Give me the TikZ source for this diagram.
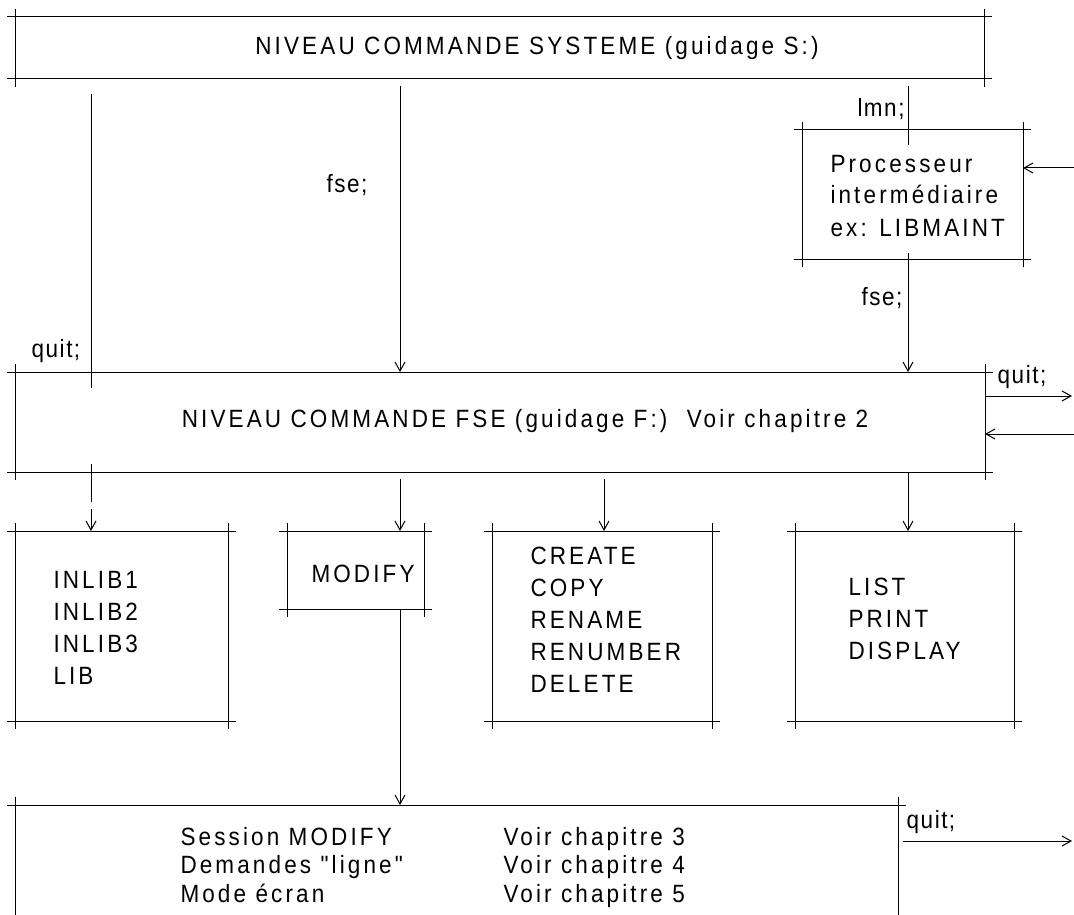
\documentclass[tikz,border=0pt]{standalone}
\usepackage{fontspec}
\setmainfont{Liberation Sans}[FakeStretch=0.9, LetterSpace=12.5, Ligatures=TeXOff]
\newfontfamily\labelfont{Liberation Sans}[FakeStretch=0.9, LetterSpace=6, Ligatures=TeXOff]
\usetikzlibrary{arrows.meta}

% box drawn as four lines that cross at the corners
\newcommand\crossframe[1]{%
  \draw ([xshift=-8pt]#1.north west) -- ([xshift=8pt]#1.north east);
  \draw ([xshift=-8pt]#1.south west) -- ([xshift=8pt]#1.south east);
  \draw ([yshift=8pt]#1.north west) -- ([yshift=-8pt]#1.south west);
  \draw ([yshift=8pt]#1.north east) -- ([yshift=-8pt]#1.south east);}

\begin{document}
\begin{tikzpicture}[x=1pt, y=-1pt, line width=1pt,
  frame/.style={inner sep=0pt, draw=none, anchor=north west},
  txt/.style={inner sep=0pt, font=\fontsize{25}{32}\selectfont, align=left},
  lbl/.style={inner sep=0pt, font=\labelfont\fontsize{25}{28}\selectfont},
  arr/.style={-{Straight Barb[length=9pt,width=10pt,line width=1pt]}}]
\useasboundingbox (0,0) rectangle (1074,915);

% frames
\node[frame, minimum width=968pt, minimum height=61pt]  (sys)     at (15,17)  {};
\node[frame, minimum width=220pt, minimum height=128pt] (proc)    at (802,130) {};
\node[frame, minimum width=969pt, minimum height=99pt]  (fse)     at (15,372) {};
\node[frame, minimum width=212pt, minimum height=189pt] (inlib)   at (15,531) {};
\node[frame, minimum width=136pt, minimum height=77pt]  (modify)  at (287,531) {};
\node[frame, minimum width=219pt, minimum height=189pt] (create)  at (492,531) {};
\node[frame, minimum width=218pt, minimum height=189pt] (list)    at (795,531) {};
\node[frame, minimum width=882pt, minimum height=120pt] (session) at (15,805) {};

\crossframe{sys}
\crossframe{proc}
\crossframe{fse}
\crossframe{inlib}
\crossframe{modify}
\crossframe{create}
\crossframe{list}
\draw ([xshift=-8pt]session.north west) -- ([xshift=8pt]session.north east);
\draw ([yshift=8pt]session.north west) -- (session.south west);
\draw ([yshift=8pt]session.north east) -- (session.south east);

% texts (multi-line texts are placed by the baseline of their last line)
\node[txt] (tsys) at (537,48) {NIVEAU COMMANDE SYSTEME (guidage S:)};
\node[txt] (tfse) at (525,421) {NIVEAU COMMANDE FSE (guidage F:)\hspace{10pt} Voir chapitre 2};
\node[txt, anchor=base west] (tproc) at (830,236) {Processeur\\intermédiaire\\ex: LIBMAINT};
\node[txt, anchor=base west] (tinlib) at (53,684) {INLIB1\\INLIB2\\INLIB3\\LIB};
\node[txt, anchor=base west] (tmodify) at (311,582) {MODIFY};
\node[txt, anchor=base west] (tcreate) at (530,692) {CREATE\\COPY\\RENAME\\RENUMBER\\DELETE};
\node[txt, anchor=base west] (tlist) at (848,659) {LIST\\PRINT\\DISPLAY};
\node[txt, anchor=base west, font=\fontsize{25}{28.5}\selectfont] (tsess) at (180,902)
  {Session MODIFY\\Demandes "ligne"\\Mode écran};
\node[txt, anchor=base west, font=\fontsize{25}{28.5}\selectfont] (tvoir) at (503,902)
  {Voir chapitre 3\\Voir chapitre 4\\Voir chapitre 5};

% column positions and free ends
\coordinate (xq)   at (91,0);
\coordinate (xf)   at (400,0);
\coordinate (xc)   at (604,0);
\coordinate (xl)   at (908,0);
\coordinate (inP)  at (1074,168);
\coordinate (outF) at (1072,396);
\coordinate (inF)  at (1074,434);
\coordinate (outS) at (1072,841);

% connectors
\draw ([yshift=-15pt]sys.south -| xq) -- ([yshift=-16pt]fse.north -| xq);
\draw[arr] ([yshift=-7pt]sys.south -| xf) -- (fse.north -| xf);
\draw ([yshift=-7pt]sys.south -| xl) -- ([yshift=-15pt]proc.north -| xl);
\draw[arr] ([yshift=6pt]proc.south -| xl) -- (fse.north -| xl);
\draw[arr] (inP) -- (proc.east |- inP);
\draw[arr] (fse.east |- outF) -- (outF);
\draw[arr] (inF) -- (fse.east |- inF);

\draw ([yshift=8pt]fse.south -| xq) -- ([yshift=29pt]inlib.north -| xq);
\draw[arr] ([yshift=22pt]inlib.north -| xq) -- (inlib.north -| xq);
\draw[arr] ([yshift=-7pt]fse.south -| xf) -- (modify.north -| xf);
\draw[arr] ([yshift=-7pt]fse.south -| xc) -- (create.north -| xc);
\draw[arr] (fse.south -| xl) -- (list.north -| xl);
\draw[arr] (modify.south -| xf) -- (session.north -| xf);
\draw[arr] ([xshift=5pt]session.east |- outS) -- (outS);

% connector labels
\node[lbl] (lquit1) at (56,351)  {quit;};
\node[lbl] (lfse1)  at (347,185) {fse;};
\node[lbl] (llmn)   at (881,109) {lmn;};
\node[lbl] (lfse2)  at (882,298) {fse;};
\node[lbl] (lquit2) at (1022,377) {quit;};
\node[lbl] (lquit3) at (931,822) {quit;};
\end{tikzpicture}
\end{document}
